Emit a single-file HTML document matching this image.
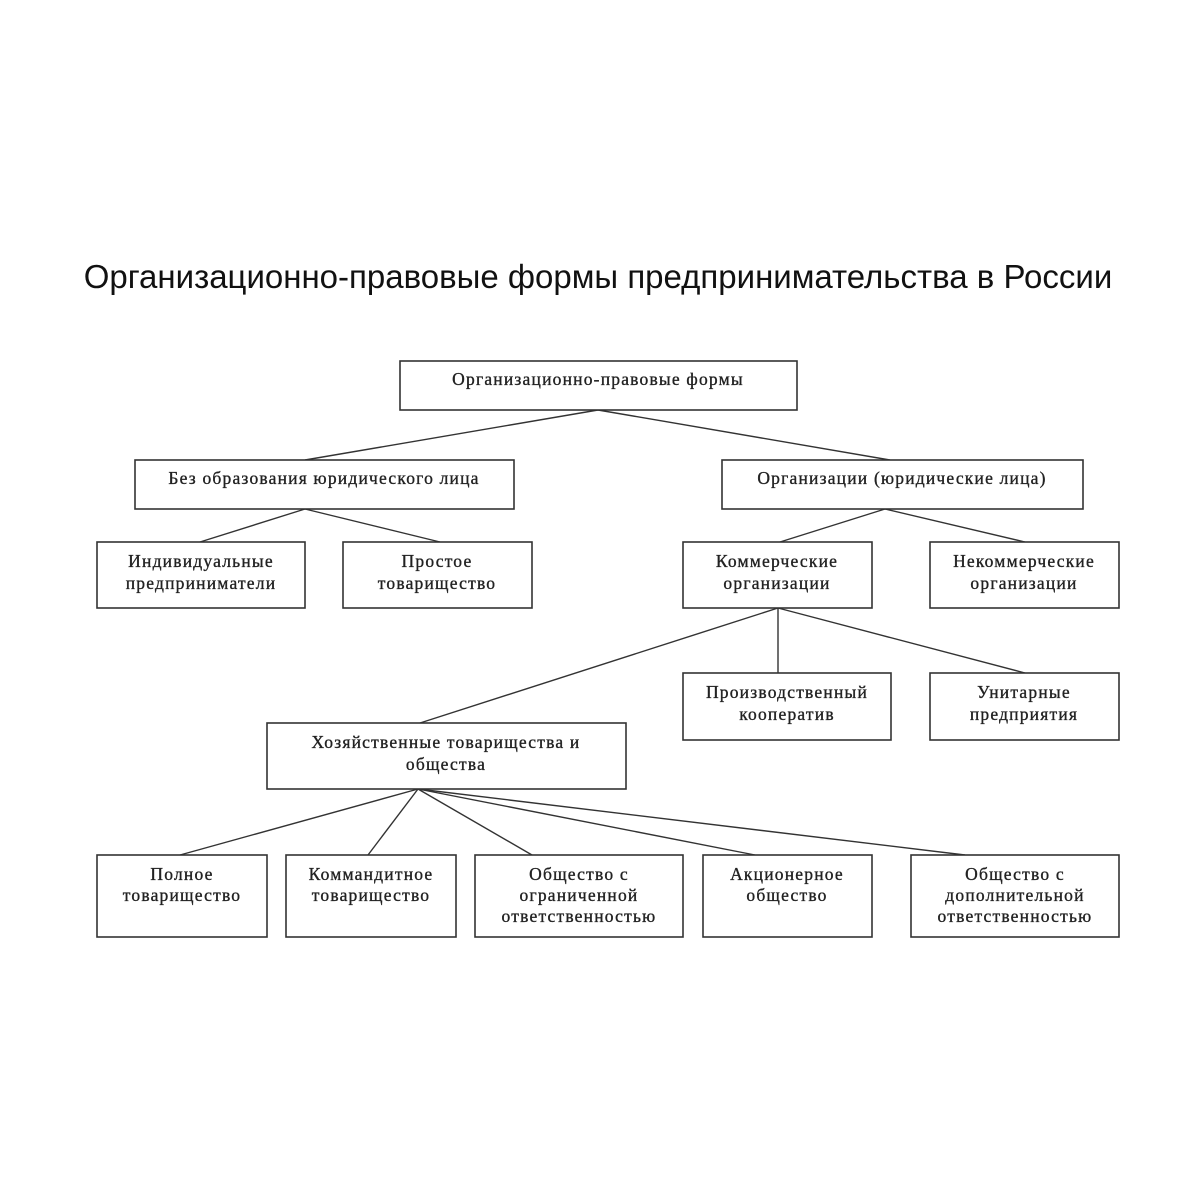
<!DOCTYPE html>
<html><head><meta charset="utf-8"><style>
html,body{margin:0;padding:0;background:#fff;}
svg{display:block;}
.t{font-family:"Liberation Serif","DejaVu Serif",serif;font-size:17.5px;letter-spacing:1.2px;fill:#222;stroke:#222;stroke-width:0.35;text-anchor:middle;}
rect{fill:#fff;stroke:#333;stroke-width:1.6;}
line{stroke:#333;stroke-width:1.4;}
</style></head><body>
<svg width="1199" height="1200" viewBox="0 0 1199 1200">
<text x="598" y="288" font-family="Liberation Sans, sans-serif" font-size="33" fill="#111" text-anchor="middle">Организационно-правовые формы предпринимательства в России</text>
<g>
<line x1="598" y1="410" x2="305" y2="460"/><line x1="598" y1="410" x2="890" y2="460"/>
<line x1="305" y1="509" x2="200" y2="542"/><line x1="305" y1="509" x2="440" y2="542"/>
<line x1="885" y1="509" x2="780" y2="542"/><line x1="885" y1="509" x2="1025" y2="542"/>
<line x1="778" y1="608" x2="420" y2="723"/><line x1="778" y1="608" x2="778" y2="673"/><line x1="778" y1="608" x2="1025" y2="673"/>
<line x1="418" y1="789" x2="180" y2="855"/><line x1="418" y1="789" x2="368" y2="855"/><line x1="418" y1="789" x2="532" y2="855"/><line x1="418" y1="789" x2="755" y2="855"/><line x1="418" y1="789" x2="965" y2="855"/>
</g>
<rect x="400" y="361" width="397" height="49"/><text class="t" x="598" y="385">Организационно-правовые формы</text>
<rect x="135" y="460" width="379" height="49"/><text class="t" x="324" y="484">Без образования юридического лица</text>
<rect x="722" y="460" width="361" height="49"/><text class="t" x="902" y="484">Организации (юридические лица)</text>
<rect x="97" y="542" width="208" height="66"/><text class="t" x="201" y="567">Индивидуальные</text><text class="t" x="201" y="589">предприниматели</text>
<rect x="343" y="542" width="189" height="66"/><text class="t" x="437" y="567">Простое</text><text class="t" x="437" y="589">товарищество</text>
<rect x="683" y="542" width="189" height="66"/><text class="t" x="777" y="567">Коммерческие</text><text class="t" x="777" y="589">организации</text>
<rect x="930" y="542" width="189" height="66"/><text class="t" x="1024" y="567">Некоммерческие</text><text class="t" x="1024" y="589">организации</text>
<rect x="683" y="673" width="208" height="67"/><text class="t" x="787" y="698">Производственный</text><text class="t" x="787" y="720">кооператив</text>
<rect x="930" y="673" width="189" height="67"/><text class="t" x="1024" y="698">Унитарные</text><text class="t" x="1024" y="720">предприятия</text>
<rect x="267" y="723" width="359" height="66"/><text class="t" x="446" y="748">Хозяйственные товарищества и</text><text class="t" x="446" y="770">общества</text>
<rect x="97" y="855" width="170" height="82"/><text class="t" x="182" y="880">Полное</text><text class="t" x="182" y="901">товарищество</text>
<rect x="286" y="855" width="170" height="82"/><text class="t" x="371" y="880">Коммандитное</text><text class="t" x="371" y="901">товарищество</text>
<rect x="475" y="855" width="208" height="82"/><text class="t" x="579" y="880">Общество с</text><text class="t" x="579" y="901">ограниченной</text><text class="t" x="579" y="922">ответственностью</text>
<rect x="703" y="855" width="169" height="82"/><text class="t" x="787" y="880">Акционерное</text><text class="t" x="787" y="901">общество</text>
<rect x="911" y="855" width="208" height="82"/><text class="t" x="1015" y="880">Общество с</text><text class="t" x="1015" y="901">дополнительной</text><text class="t" x="1015" y="922">ответственностью</text>
</svg>
</body></html>
